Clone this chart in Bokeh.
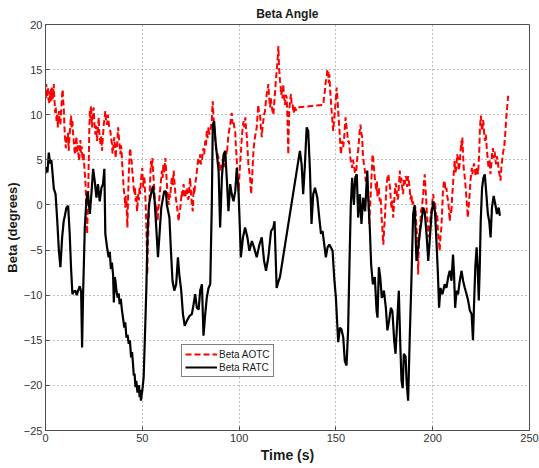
from bokeh.plotting import figure
from bokeh.models import Legend, LegendItem, FixedTicker
from bokeh.embed import file_html
from bokeh.resources import INLINE

# ---- data ----
time_aotc = [
 0.0,0.2,0.4,0.6,0.9,1.1,1.3,1.5,1.7,1.9,2.2,2.4,2.6,2.8,3.0,3.2,3.4,3.6,3.9,4.1,4.3,4.5,4.8,5.0,5.3,5.7,6.0,6.4,6.7,7.0,
 7.3,7.7,8.0,8.4,8.6,8.9,9.1,9.4,9.6,9.8,10.1,10.5,10.8,11.2,11.6,12.0,12.2,12.5,12.8,13.2,13.5,13.9,14.2,14.6,14.9,15.3,15.6,16.0,16.3,16.7,
 17.0,17.4,17.7,18.0,18.3,18.7,19.0,19.4,19.7,20.1,20.4,20.6,20.9,21.1,21.3,21.5,21.7,22.0,22.3,22.6,22.9,23.2,23.5,23.8,24.0,24.4,24.9,25.2,25.5,25.8,
 26.2,26.6,27.0,27.5,27.8,28.1,28.4,28.8,29.2,29.6,30.1,30.5,30.9,31.3,31.8,32.2,32.6,33.0,33.5,33.9,34.4,34.6,34.9,35.2,35.6,35.9,36.3,36.6,36.9,37.2,
 37.5,37.8,38.1,38.4,38.7,39.0,39.3,39.6,40.0,40.3,40.7,41.0,41.2,41.5,41.8,42.0,42.3,42.5,42.8,43.0,43.3,43.5,43.8,44.1,44.5,44.8,45.2,45.5,45.9,46.2,
 46.6,46.9,47.3,47.6,47.9,48.2,48.6,48.9,49.3,49.6,50.0,50.2,50.5,50.8,51.2,51.4,51.7,51.9,52.1,52.4,52.6,52.8,53.1,53.4,53.8,54.1,54.5,54.8,55.2,55.5,
 55.8,56.2,56.5,56.9,57.2,57.5,57.9,58.2,58.6,58.9,59.3,59.7,60.1,60.5,60.9,61.4,61.9,62.3,62.7,63.1,63.6,64.0,64.4,64.8,65.2,65.7,66.2,66.6,67.0,67.4,
 67.9,68.3,68.8,69.2,69.6,70.0,70.4,70.8,71.3,71.7,72.2,72.6,73.1,73.5,74.0,74.3,74.7,75.1,75.6,76.1,76.5,76.9,77.3,77.8,78.2,78.6,79.1,79.5,79.9,80.3,
 80.8,81.2,81.6,82.0,82.5,82.9,83.3,83.7,84.2,84.6,85.1,85.5,85.9,86.1,86.4,86.7,87.1,87.4,87.8,88.1,88.5,88.9,89.4,89.8,90.2,90.6,91.1,91.5,92.0,92.4,
 92.8,93.2,93.7,94.1,94.5,95.0,95.4,95.8,96.2,96.6,97.1,97.5,98.0,98.2,98.5,98.9,99.2,99.5,99.8,100.1,100.5,101.0,101.4,101.8,102.3,102.7,103.2,103.6,104.0,104.4,
 104.8,105.2,105.7,106.0,106.2,106.6,106.9,107.2,107.4,107.8,108.2,108.6,109.1,109.5,109.9,110.3,110.8,111.2,111.7,112.1,112.5,112.9,113.4,113.8,114.3,114.7,115.1,115.5,116.0,116.4,
 116.8,117.2,117.7,118.2,118.6,119.0,119.4,119.9,120.3,120.5,120.8,121.1,121.5,121.7,122.0,122.4,122.8,123.2,123.7,124.1,124.6,124.9,125.2,125.4,125.6,125.9,126.3,126.8,127.2,127.7,
 128.0,128.4,128.8,129.2,129.7,143.5,143.9,144.3,144.7,145.2,145.6,146.1,146.3,146.6,147.0,147.3,147.7,148.1,148.3,148.6,149.0,149.5,149.9,150.4,150.8,151.2,151.6,152.1,152.3,152.6,
 153.0,153.4,153.8,154.3,154.6,155.0,155.4,155.8,156.2,156.7,157.1,157.5,157.9,158.4,158.8,159.3,159.8,160.3,160.6,161.0,161.5,161.9,162.3,162.7,163.1,163.6,163.8,164.1,164.5,165.0,
 165.4,165.9,166.3,166.7,166.9,167.2,167.5,167.9,168.3,168.7,168.9,169.2,169.6,170.1,170.5,171.0,171.2,171.5,171.8,172.2,172.4,172.7,173.1,173.6,174.0,174.5,174.9,175.4,175.8,176.2,
 176.6,177.1,177.5,178.0,178.3,178.7,179.1,179.6,180.0,180.4,180.8,181.3,181.7,182.2,182.6,183.0,183.4,183.8,184.2,184.7,185.1,185.6,186.0,186.4,186.8,187.3,187.7,188.1,188.5,189.0,
 189.4,189.9,190.3,190.7,191.1,191.6,192.0,192.3,192.5,192.7,193.0,193.3,193.7,194.0,194.4,194.8,195.2,195.5,195.9,196.2,196.6,196.9,197.3,197.6,198.0,198.3,198.7,199.1,199.6,199.9,
 200.3,200.7,201.2,201.6,202.0,202.3,202.7,203.1,203.6,204.0,204.5,204.9,205.3,205.7,206.2,206.6,207.1,207.5,208.0,208.4,208.8,209.2,209.6,210.0,210.5,210.9,211.3,211.7,212.2,212.6,
 213.1,213.5,213.9,214.4,214.8,215.1,215.3,215.7,216.0,216.4,216.7,217.1,217.4,217.8,218.1,218.5,218.8,219.2,219.5,219.9,220.2,220.5,220.8,221.3,221.7,222.2,222.6,223.0,223.4,223.7,
 224.0,224.2,224.4,224.7,224.9,225.2,225.6,226.0,226.3,226.6,227.0,227.4,227.7,228.0,228.4,228.7,229.1,229.4,229.8,230.1,230.4,230.7,231.1,231.5,232.0,232.4,232.8,233.2,233.7,234.1,
 234.5,234.8,235.0,235.3,235.6,235.9,236.2,236.5,236.9,237.2,237.6,237.9,238.3,238.6,239.0]
beta_aotc = [
 12.5,11.8,13.4,12.0,11.9,13.0,12.8,11.6,12.6,11.2,11.3,12.6,11.5,12.9,12.4,11.6,13.0,12.2,11.8,12.9,13.4,12.0,11.1,10.2,10.8,9.3,10.0,8.6,9.8,10.4,
 9.2,8.9,10.2,11.5,12.3,12.8,11.6,11.0,9.8,8.6,7.4,6.3,7.6,7.1,8.0,6.0,7.0,7.8,8.8,9.9,8.6,9.3,8.0,7.1,6.2,5.6,6.8,7.6,5.9,6.6,
 5.6,4.9,6.2,7.2,5.8,6.5,5.4,4.9,5.8,4.1,3.2,2.7,1.0,-0.7,-1.8,-3.2,-1.5,0.4,4.5,8.0,10.4,9.6,11.0,9.8,8.6,10.0,10.8,9.2,8.5,7.8,
 8.8,7.1,8.3,9.7,8.0,7.4,6.7,7.6,6.0,7.4,8.9,9.6,10.4,9.2,8.9,10.0,9.3,8.4,8.2,7.3,6.7,5.7,6.0,7.0,7.5,6.2,5.2,6.8,6.3,7.4,
 8.6,7.8,7.1,6.2,5.6,6.6,6.0,4.6,3.4,2.0,1.2,0.6,-0.3,1.0,0.4,-0.8,-2.5,-0.5,1.9,3.2,4.9,5.8,6.3,5.2,4.9,3.8,3.0,2.0,1.2,2.0,
 0.4,1.0,-0.7,0.2,1.2,0.5,1.9,1.2,2.7,3.4,4.1,3.0,1.9,3.2,2.7,1.5,0.4,-1.0,-2.5,-5.5,-7.7,-5.0,-3.2,-1.0,1.2,3.0,4.9,4.2,5.2,4.0,
 3.0,1.8,0.4,0.0,-1.0,-0.2,-1.8,-0.6,0.1,1.0,1.9,2.8,3.8,3.0,4.5,3.6,5.2,3.8,2.3,1.2,0.0,1.4,0.8,2.0,3.0,2.2,3.8,2.6,1.5,0.6,
 0.0,-1.0,-1.8,-0.6,-0.4,0.6,1.5,0.8,2.3,1.4,0.8,1.6,1.9,0.6,0.8,2.0,3.0,1.5,0.0,-0.7,1.9,1.2,2.3,3.0,3.8,4.6,5.2,4.6,5.6,4.5,
 4.9,5.8,6.3,5.6,7.1,6.6,8.2,7.4,8.6,7.8,8.2,8.8,9.3,10.5,11.5,10.0,8.9,8.0,7.1,6.2,6.0,5.6,5.2,4.4,3.8,4.6,4.1,5.0,5.2,4.2,
 4.9,6.0,5.6,6.8,7.8,8.4,8.9,9.6,10.2,9.0,9.3,8.6,8.2,7.0,6.0,4.5,3.0,2.2,1.5,3.0,4.5,6.0,7.5,8.4,9.3,8.6,9.7,8.5,7.5,6.0,
 4.5,3.8,3.0,2.0,1.2,2.5,3.8,5.0,6.0,6.8,7.5,8.0,8.6,9.8,11.1,10.2,10.0,8.8,7.5,8.6,9.3,10.0,10.4,11.4,12.3,12.8,13.4,12.0,10.8,11.8,
 11.1,10.4,10.0,11.4,12.6,13.8,14.8,16.2,17.6,16.0,14.8,13.8,13.0,12.2,12.6,11.8,13.4,12.0,11.1,12.2,11.9,10.0,7.5,5.6,8.0,10.4,11.5,12.3,11.0,11.1,
 10.2,10.4,11.0,10.4,10.8,11.1,12.0,12.6,13.6,14.1,15.0,14.8,13.5,14.5,12.8,11.9,10.6,9.7,9.0,8.2,9.2,10.4,11.6,13.0,11.8,10.4,9.0,7.5,6.5,5.6,
 6.6,7.1,6.4,7.5,8.6,9.7,8.8,8.2,7.0,7.1,6.2,5.2,4.6,4.1,5.0,4.5,3.6,3.0,4.0,5.2,6.0,7.1,8.2,8.9,8.0,7.5,6.2,5.2,4.5,3.8,
 2.6,3.0,2.2,1.5,0.0,-2.1,-0.8,0.8,2.6,4.5,5.6,5.2,4.2,3.0,2.2,1.5,2.6,0.8,1.4,1.9,1.0,0.4,0.8,-1.4,-2.6,-4.4,-2.8,-1.0,0.8,2.3,
 3.0,3.4,2.6,1.9,0.8,-0.3,0.5,-1.4,0.0,1.2,2.4,1.9,0.6,0.8,2.4,3.8,2.4,3.0,2.0,1.2,2.8,2.3,3.2,3.0,2.0,3.2,2.6,1.9,0.6,1.2,
 0.0,0.4,-0.4,-1.0,-0.2,-2.5,-3.5,-5.8,-7.7,-5.5,-4.0,-2.6,-1.8,-0.6,-0.3,0.6,1.5,2.6,3.4,2.2,0.8,-0.6,-1.8,-2.8,-3.6,-2.5,-1.8,-0.8,-0.3,0.6,
 1.2,0.0,0.4,-0.8,-1.8,-1.0,-2.9,-3.8,-5.1,-3.6,-2.5,-0.5,1.5,2.4,2.7,1.6,1.9,1.0,0.4,-0.6,-1.8,-0.5,-1.0,0.8,2.3,3.6,4.9,3.6,4.1,5.6,
 5.2,3.8,4.5,6.0,7.1,6.4,7.5,5.6,4.1,3.4,2.7,1.8,0.8,-0.2,-1.4,-0.4,0.4,1.6,2.7,3.4,4.1,3.4,3.9,4.6,4.1,3.2,3.7,4.2,3.4,4.4,
 5.6,7.2,8.6,9.4,9.9,8.8,8.2,9.4,8.9,7.8,7.1,7.8,7.1,6.0,5.2,4.4,4.1,5.0,3.4,4.2,4.8,5.8,6.3,5.2,5.9,5.0,4.5,5.4,4.8,3.8,
 3.4,3.0,2.7,3.6,4.5,5.0,5.6,6.0,6.3,7.2,8.2,9.4,10.4,11.2,12.1]

time_ratc = [0.0,0.5,1.0,1.7,2.4,3.0,3.4,4.3,5.2,6.0,6.9,7.7,8.6,9.4,10.0,10.8,11.7,12.5,13.2,13.9,
 14.6,15.5,16.1,16.7,17.7,18.4,18.9,19.4,20.3,21.1,21.8,22.9,23.7,24.6,25.4,26.3,27.1,28.0,28.9,29.7,
 30.4,30.9,31.8,32.6,33.2,33.8,34.3,34.9,35.3,35.8,36.1,36.7,37.3,37.8,38.3,38.9,39.5,40.1,40.7,41.2,
 41.8,42.4,43.0,43.6,44.2,44.7,45.2,45.6,46.0,46.5,46.9,47.5,47.8,48.3,48.6,49.0,49.3,49.7,50.0,50.7,
 51.4,52.1,52.7,53.4,54.5,55.5,56.4,57.2,58.1,58.9,59.8,61.3,
 62.2,62.7,64.0,64.8,65.6,66.5,67.5,68.4,69.1,70.1,71.0,71.9,73.1,74.4,75.6,76.5,77.3,78.2,79.1,79.9,
 80.8,81.6,82.5,83.3,84.2,85.1,85.9,86.4,87.1,87.8,88.5,89.4,90.2,91.1,92.0,92.8,93.7,94.5,95.4,96.2,
 97.1,98.0,98.8,99.7,100.2,100.9,102.0,103.1,104.3,105.3,106.6,107.7,109.1,110.5,111.7,112.9,113.9,115.1,116.5,117.7,
 118.3,119.4,120.3,121.1,131.4,132.3,133.1,134.0,134.9,135.7,136.6,137.4,138.3,139.2,140.4,141.4,142.3,143.1,144.0,144.8,
 145.7,146.6,147.4,148.3,149.1,150.0,150.7,151.2,152.1,152.9,153.8,154.6,155.5,156.3,157.0,157.7,158.4,159.3,160.0,160.8,
 161.5,162.4,163.2,164.1,165.1,166.2,166.7,167.5,168.2,169.1,170.1,171.0,171.5,172.2,172.9,173.7,174.8,175.8,176.6,177.5,
 178.4,179.2,180.1,180.8,181.6,182.5,183.3,183.9,184.5,185.1,186.0,186.5,187.3,188.1,189.0,189.9,190.7,191.6,192.5,193.3,
 194.2,195.1,195.9,196.8,197.7,198.5,199.4,200.3,201.2,202.0,202.7,203.3,204.0,205.0,206.2,207.1,208.0,208.8,209.7,210.5,
 211.0,211.6,212.3,213.1,214.0,214.9,215.7,216.6,217.5,218.3,219.2,220.1,220.8,221.3,222.0,222.7,223.2,223.8,224.3,224.8,
 225.5,226.2,226.9,227.6,228.5,229.2,229.9,230.6,231.5,232.4,233.2,234.1,234.7]
beta_ratc = [3.5,4.2,3.6,5.8,4.6,5.0,4.1,1.8,1.2,-1.5,-5.0,-6.9,-3.6,-1.8,-1.2,-0.3,-0.1,-3.2,-7.0,-9.9,
 -9.6,-9.5,-10.0,-9.6,-9.0,-9.6,-15.8,-10.0,-2.5,0.4,1.5,-1.0,1.2,4.0,2.7,0.8,2.3,0.4,1.9,2.3,
 4.0,-3.2,-4.7,-5.8,-5.2,-7.1,-6.4,-7.7,-10.8,-8.0,-8.4,-9.6,-10.3,-9.8,-11.0,-10.4,-11.7,-12.6,-13.6,-13.0,
 -14.7,-14.4,-15.4,-15.0,-16.9,-16.3,-17.6,-18.9,-18.7,-20.2,-19.5,-20.8,-20.4,-20.0,-21.3,-20.5,-21.7,-21.0,-20.6,-19.1,
 -14.3,-9.2,-3.2,0.0,1.2,2.1,0.4,-2.5,-5.8,-3.2,-0.3,1.5,
 1.5,0.0,-1.4,-5.1,-8.4,-9.5,-8.8,-5.8,-7.7,-9.5,-12.1,-13.4,-12.8,-12.3,-12.1,-11.0,-9.9,-11.4,-11.6,-9.5,
 -8.8,-14.5,-12.1,-10.3,-9.2,-8.8,0.0,8.9,9.3,7.1,5.6,3.8,-2.5,3.0,5.6,6.0,2.7,-0.7,2.3,1.2,
 0.4,1.5,4.1,1.5,-1.4,-5.8,-3.6,-2.5,-3.6,-5.1,-4.0,-4.7,-5.8,-4.4,-3.6,-6.2,-7.3,-5.8,-2.9,-2.5,
 -1.8,-9.2,-8.5,-8.0,6.0,4.5,1.2,4.5,8.6,8.2,3.8,-2.1,1.2,1.9,0.8,-1.4,-3.2,-2.9,-4.4,-5.8,
 -4.7,-4.4,-4.7,-5.1,-8.0,-10.3,-13.2,-15.2,-13.6,-13.8,-14.7,-17.3,-17.8,-13.9,-6.6,0.0,3.0,0.0,3.0,3.4,
 -1.4,1.2,-2.1,0.8,-0.7,3.8,0.8,-2.5,-6.6,-8.8,-8.0,-11.7,-12.5,-6.9,-8.0,-10.3,-9.5,-11.4,-13.9,-12.8,
 -11.4,-11.8,-15.0,-16.5,-13.2,-9.5,-15.8,-19.5,-20.3,-16.5,-16.8,-19.5,-21.7,-15.0,-8.4,-1.0,0.0,-6.2,-4.7,-3.2,
 -1.8,-0.3,-0.8,-3.2,-6.2,-3.8,-1.0,0.4,-0.8,-4.3,-7.7,-11.4,-9.2,-9.9,-8.8,-9.2,-8.0,-7.3,-8.4,-5.5,
 -7.5,-11.4,-9.5,-9.9,-8.4,-7.3,-8.4,-9.2,-9.9,-10.6,-11.7,-12.1,-15.0,-11.4,-6.9,-4.7,-6.9,-10.6,-6.9,-1.8,
 1.9,3.0,3.4,1.5,-1.0,-1.8,-3.6,-0.3,1.0,0.0,-1.0,-0.3,-1.2]

x_ticks = [0, 50, 100, 150, 200, 250]
y_ticks = [-25, -20, -15, -10, -5, 0, 5, 10, 15, 20]
title_text = "Beta Angle"
x_label = "Time (s)"
y_label = "Beta (degrees)"
series_names = ["Beta AOTC", "Beta RATC"]

FONT = "Liberation Sans"

p = figure(width=539, height=468, output_backend="svg", toolbar_location=None,
           x_range=(0, 250), y_range=(-25, 20),
           min_border_left=45, min_border_right=10, min_border_top=23, min_border_bottom=38)
p.title.text = title_text
p.title.align = "center"
p.title.text_font = FONT
p.title.text_font_size = "12px"
p.title.text_font_style = "bold"
p.title.text_color = "#1a1a1a"
p.title.offset = 0
p.title.standoff = 8

p.background_fill_color = "white"
p.border_fill_color = "white"
p.outline_line_color = "#4d4d4d"
p.outline_line_width = 1

for ax in (p.xaxis[0], p.yaxis[0]):
    ax.major_tick_in = 4
    ax.major_tick_out = 0
    ax.minor_tick_in = 0
    ax.minor_tick_out = 0
    ax.axis_line_color = "#4d4d4d"
    ax.major_tick_line_color = "#4d4d4d"
    ax.major_label_text_font = FONT
    ax.major_label_text_font_size = "11px"
    ax.major_label_text_color = "#333333"
    ax.axis_label_text_font = FONT
    ax.axis_label_text_font_size = "14px"
    ax.axis_label_text_font_style = "bold"
    ax.axis_label_text_color = "#1a1a1a"

p.xaxis[0].ticker = FixedTicker(ticks=x_ticks)
p.yaxis[0].ticker = FixedTicker(ticks=y_ticks)
p.xaxis[0].axis_label = x_label
p.yaxis[0].axis_label = y_label
p.xaxis[0].major_label_standoff = 3
p.yaxis[0].major_label_standoff = 3
p.xaxis[0].axis_label_standoff = 2
p.yaxis[0].axis_label_standoff = 1
p.yaxis[0].axis_label_text_font_size = "13px"

for g in (p.xgrid[0], p.ygrid[0]):
    g.grid_line_color = "#808080"
    g.grid_line_dash = "1 3"
    g.grid_line_width = 1
p.xgrid[0].ticker = FixedTicker(ticks=x_ticks)
p.ygrid[0].ticker = FixedTicker(ticks=y_ticks)

r_aotc = p.line(time_aotc, beta_aotc, line_color="#ff0000", line_width=2, line_dash="6 3")
r_ratc = p.line(time_ratc, beta_ratc, line_color="#000000", line_width=2.2)

legend = Legend(items=[LegendItem(label=series_names[0], renderers=[r_aotc]),
                       LegendItem(label=series_names[1], renderers=[r_ratc])],
                location=(136, 53))
legend.label_text_font = FONT
legend.label_text_font_size = "10px"
legend.label_text_color = "#1a1a1a"
legend.border_line_color = "#000000"
legend.border_line_width = 1
legend.background_fill_color = "white"
legend.background_fill_alpha = 1
legend.glyph_width = 32
legend.glyph_height = 12
legend.label_standoff = 2
legend.padding = 3
legend.spacing = 1
legend.margin = 0
legend.label_height = 12
p.add_layout(legend, "center")

open("out.html", "w").write(file_html(p, INLINE))
